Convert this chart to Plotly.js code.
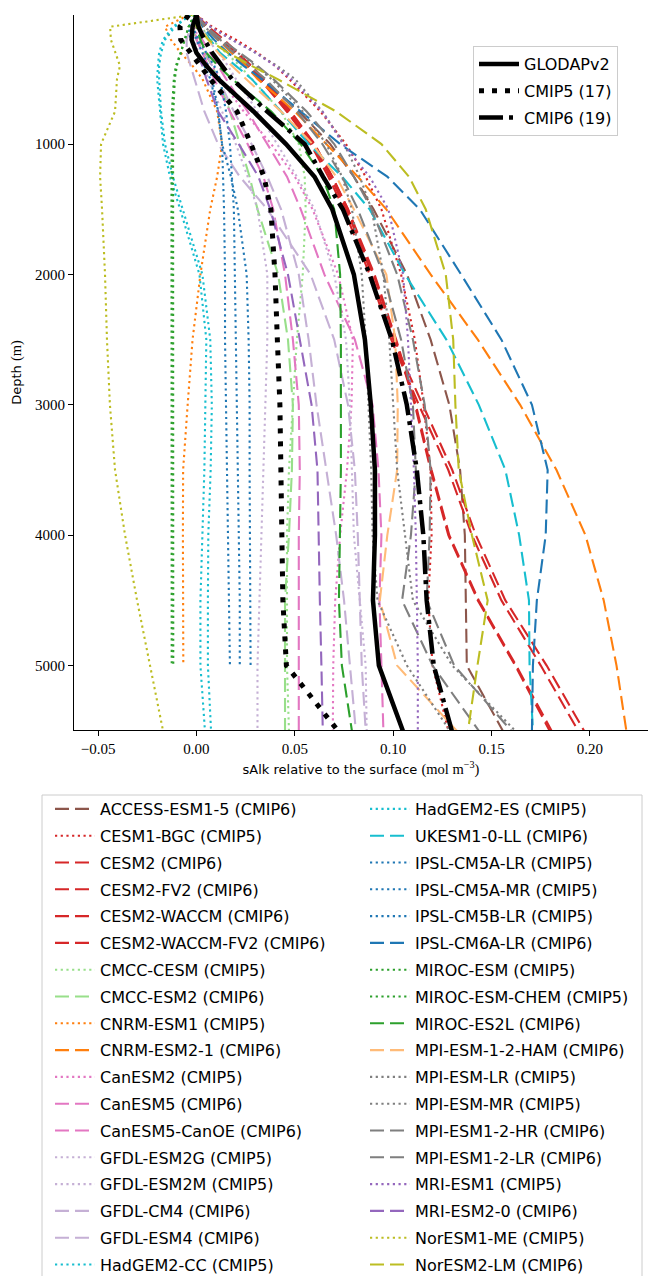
<!DOCTYPE html>
<html><head><meta charset="utf-8">
<script src="https://cdn.plot.ly/plotly-3.0.1.min.js"></script>
<style>html,body{margin:0;padding:0;background:#fff}#chart{width:648px;height:1276px}</style>
</head><body><div id="chart"></div>
<script>
// depth levels (m)
const DEPTH = [10,100,200,300,400,500,750,1000,1250,1500,2000,2500,3000,3500,4000,4500,5000,5500];

// sAlk relative to the surface (mol m-3)
const GLODAPv2   = [0,-0.002,-0.0025,0.0,0.005,0.011,0.029,0.0455,0.06,0.069,0.08,0.0856,0.0886,0.0907,0.0907,0.0897,0.0927,0.1049];
const CMIP5_MEAN = [-0.004,-0.0084,-0.008,-0.0033,0.002,0.0069,0.0206,0.0277,0.0343,0.0378,0.0399,0.0411,0.0424,0.0429,0.0434,0.0439,0.0457,0.0719];
const CMIP6_MEAN = [0,0.001,0.004,0.008,0.013,0.018,0.036,0.055,0.0643,0.0744,0.088,0.0993,0.1069,0.112,0.1153,0.117,0.1206,0.1298];

const ACCESS_ESM1_5   = [0,0.004,0.011,0.018,0.026,0.033,0.052,0.068,0.08,0.09,0.107,0.119,0.1285,0.134,0.1364,0.1369,0.1374,0.1557];
const CESM1_BGC       = [0,0.008,0.02,0.031,0.04,0.047,0.063,0.076,0.086,0.094,0.104,0.111,0.1155,0.119,0.1195,0.1178,0.12,0.128];
const CESM2           = [0,0.005,0.013,0.02,0.027,0.033,0.046,0.058,0.067,0.075,0.088,0.099,0.113,0.128,0.14,0.155,0.175,0.194];
const CESM2_FV2       = [0,0.005,0.012,0.019,0.026,0.032,0.046,0.059,0.068,0.076,0.09,0.101,0.111,0.119,0.128,0.143,0.162,0.1795];
const CESM2_WACCM     = [0,0.006,0.014,0.021,0.028,0.034,0.048,0.06,0.069,0.077,0.089,0.1,0.115,0.13,0.142,0.157,0.178,0.197];
const CESM2_WACCM_FV2 = [0,0.005,0.013,0.02,0.027,0.033,0.047,0.06,0.069,0.077,0.0905,0.1015,0.1115,0.1195,0.1285,0.1435,0.1625,0.1805];
const CMCC_CESM       = [0,0.002,0.008,0.015,0.022,0.028,0.043,0.052,0.055,0.0555,0.054,0.051,0.049,0.047,0.046,0.046,0.046,0.047];
const CMCC_ESM2       = [0,-0.002,0.0,0.004,0.008,0.011,0.017,0.022,0.027,0.031,0.0415,0.0465,0.049,0.0485,0.047,0.045,0.045,0.045];
const CNRM_ESM1       = [-0.004,-0.016,-0.013,-0.008,-0.002,0.003,0.0105,0.013,0.0105,0.007,0.002,-0.002,-0.0045,-0.0068,-0.0069,-0.0069,-0.0067,null];
const CNRM_ESM2_1     = [0,0.004,0.011,0.018,0.025,0.031,0.05,0.066,0.082,0.0965,0.119,0.143,0.1645,0.183,0.1977,0.207,0.2135,0.2185];
const CanESM2         = [0,-0.001,0.001,0.004,0.008,0.012,0.024,0.038,0.05,0.059,0.072,0.0795,0.0788,0.0765,0.073,0.0705,0.0695,0.0693];
const CanESM5         = [0,-0.001,0.0,0.003,0.006,0.009,0.017,0.026,0.034,0.039,0.045,0.049,0.052,0.0525,0.052,0.052,0.052,0.052];
const CanESM5_CanOE   = [0,0.0,0.003,0.007,0.011,0.015,0.026,0.036,0.046,0.053,0.065,0.0805,0.0895,0.0925,0.094,0.093,0.094,0.095];
const GFDL_ESM2G      = [0,-0.002,-0.001,0.001,0.004,0.006,0.013,0.02,0.026,0.031,0.036,0.036,0.035,0.034,0.033,0.032,0.031,0.031];
const GFDL_ESM2M      = [0,0.002,0.006,0.011,0.016,0.02,0.031,0.041,0.051,0.06,0.07,0.076,0.078,0.079,0.08,0.083,0.086,0.0865];
const GFDL_CM4        = [0,-0.003,-0.005,-0.005,-0.003,-0.001,0.004,0.011,0.022,0.036,0.058,0.07,0.077,0.0805,0.082,0.083,0.084,0.086];
const GFDL_ESM4       = [0,0.0,0.002,0.005,0.008,0.011,0.019,0.028,0.036,0.043,0.052,0.057,0.061,0.066,0.071,0.075,0.078,0.081];
const HadGEM2_CC      = [-0.003,-0.012,-0.017,-0.019,-0.0196,-0.02,-0.0185,-0.017,-0.0135,-0.0083,0.0015,0.005,0.0045,0.004,0.003,0.002,0.002,0.0043];
const HadGEM2_ES      = [-0.003,-0.011,-0.016,-0.018,-0.019,-0.019,-0.018,-0.016,-0.012,-0.007,0.003,0.007,0.0078,0.0072,0.006,0.0058,0.0058,0.0074];
const UKESM1_0_LL     = [0,0.002,0.007,0.012,0.02,0.028,0.043,0.057,0.074,0.088,0.106,0.127,0.1435,0.157,0.164,0.169,0.1693,0.171];
const IPSL_CM5A_LR    = [0,-0.004,-0.003,0.0,0.004,0.007,0.011,0.013,0.0135,0.014,0.0145,0.0145,0.015,0.0155,0.016,0.0165,0.017,null];
const IPSL_CM5A_MR    = [0,-0.002,0.001,0.005,0.009,0.012,0.015,0.017,0.018,0.019,0.0195,0.02,0.0205,0.021,0.0215,0.022,0.022,null];
const IPSL_CM5B_LR    = [0,-0.002,0.0,0.003,0.006,0.008,0.011,0.013,0.0175,0.021,0.0255,0.0265,0.027,0.027,0.0272,0.0273,0.0275,null];
const IPSL_CM6A_LR    = [0,0.003,0.009,0.016,0.024,0.033,0.053,0.073,0.097,0.1135,0.1345,0.155,0.1705,0.1785,0.1775,0.173,0.171,0.1705];
const MIROC_ESM       = [-0.001,-0.004,-0.006,-0.008,-0.0105,-0.0115,-0.0125,-0.0127,-0.0127,-0.0127,-0.0127,-0.0127,-0.0127,-0.0127,-0.0126,-0.0126,-0.0126,null];
const MIROC_ESM_CHEM  = [-0.001,-0.004,-0.006,-0.008,-0.01,-0.011,-0.0118,-0.0119,-0.0119,-0.0119,-0.0118,-0.0118,-0.0118,-0.0118,-0.0118,-0.0118,-0.0118,null];
const MIROC_ES2L      = [0,0.0,0.002,0.005,0.011,0.018,0.038,0.053,0.064,0.07,0.073,0.0734,0.0734,0.0734,0.0729,0.0724,0.0739,0.079];
const MPI_ESM_1_2_HAM = [0,0.002,0.006,0.011,0.018,0.025,0.043,0.059,0.071,0.08,0.0965,0.101,0.1023,0.102,0.097,0.0932,0.102,0.1323];
const MPI_ESM_LR      = [0,0.007,0.018,0.03,0.041,0.05,0.064,0.075,0.083,0.089,0.095,0.098,0.1,0.102,0.106,0.11,0.13,0.162];
const MPI_ESM_MR      = [0,0.004,0.012,0.021,0.03,0.038,0.054,0.066,0.074,0.079,0.084,0.086,0.0875,0.0888,0.0895,0.092,0.107,0.1287];
const MPI_ESM1_2_HR   = [0,0.004,0.011,0.019,0.027,0.035,0.051,0.064,0.074,0.082,0.095,0.104,0.11,0.1115,0.109,0.1045,0.12,0.1435];
const MPI_ESM1_2_LR   = [0,0.005,0.013,0.022,0.031,0.039,0.056,0.07,0.08,0.089,0.102,0.11,0.116,0.119,0.1185,0.117,0.131,0.16];
const MRI_ESM1        = [0,0.007,0.018,0.03,0.04,0.048,0.064,0.0745,0.088,0.0975,0.105,0.1075,0.109,0.1105,0.1115,0.112,0.1125,0.1125];
const MRI_ESM2_0      = [0,-0.002,-0.002,0.0,0.003,0.005,0.011,0.0215,0.0315,0.0375,0.0465,0.0525,0.0585,0.0615,0.062,0.0627,0.0635,0.0642];
const NorESM1_ME      = [-0.002,-0.0439,-0.0435,-0.041,-0.0389,-0.0404,-0.0414,-0.0485,-0.049,-0.048,-0.0465,-0.0455,-0.044,-0.0414,-0.0363,-0.0302,-0.0236,-0.017];
const NorESM2_LM      = [0,0.0,0.006,0.016,0.028,0.041,0.071,0.094,0.108,0.1165,0.1267,0.1305,0.1316,0.1333,0.14,0.148,0.1428,0.138];

const MODEL_NAMES = ['ACCESS-ESM1-5','CESM1-BGC','CESM2','CESM2-FV2','CESM2-WACCM','CESM2-WACCM-FV2','CMCC-CESM','CMCC-ESM2','CNRM-ESM1','CNRM-ESM2-1','CanESM2','CanESM5','CanESM5-CanOE','GFDL-ESM2G','GFDL-ESM2M','GFDL-CM4','GFDL-ESM4','HadGEM2-CC',
 'HadGEM2-ES','UKESM1-0-LL','IPSL-CM5A-LR','IPSL-CM5A-MR','IPSL-CM5B-LR','IPSL-CM6A-LR','MIROC-ESM','MIROC-ESM-CHEM','MIROC-ES2L','MPI-ESM-1-2-HAM','MPI-ESM-LR','MPI-ESM-MR','MPI-ESM1-2-HR','MPI-ESM1-2-LR','MRI-ESM1','MRI-ESM2-0','NorESM1-ME','NorESM2-LM'];
const MODEL_ERA = ['CMIP6','CMIP5','CMIP6','CMIP6','CMIP6','CMIP6','CMIP5','CMIP6','CMIP5','CMIP6','CMIP5','CMIP6','CMIP6','CMIP5','CMIP5','CMIP6','CMIP6','CMIP5',
 'CMIP5','CMIP6','CMIP5','CMIP5','CMIP5','CMIP6','CMIP5','CMIP5','CMIP6','CMIP6','CMIP5','CMIP5','CMIP6','CMIP6','CMIP5','CMIP6','CMIP5','CMIP6'];
const MODEL_VALUES = [ACCESS_ESM1_5,CESM1_BGC,CESM2,CESM2_FV2,CESM2_WACCM,CESM2_WACCM_FV2,CMCC_CESM,CMCC_ESM2,CNRM_ESM1,CNRM_ESM2_1,CanESM2,CanESM5,CanESM5_CanOE,GFDL_ESM2G,GFDL_ESM2M,GFDL_CM4,GFDL_ESM4,HadGEM2_CC,
 HadGEM2_ES,UKESM1_0_LL,IPSL_CM5A_LR,IPSL_CM5A_MR,IPSL_CM5B_LR,IPSL_CM6A_LR,MIROC_ESM,MIROC_ESM_CHEM,MIROC_ES2L,MPI_ESM_1_2_HAM,MPI_ESM_LR,MPI_ESM_MR,MPI_ESM1_2_HR,MPI_ESM1_2_LR,MRI_ESM1,MRI_ESM2_0,NorESM1_ME,NorESM2_LM];

const XTICKS = [-0.05,0,0.05,0.1,0.15,0.2];
const XTICKTEXT = ['\u22120.05','0.00','0.05','0.10','0.15','0.20'];
const YTICKS = [1000,2000,3000,4000,5000];

// styles
const FAMILY_COLOR = {
  'ACCESS':'#8c564b','CESM':'#d62728','CMCC':'#98df8a','CNRM':'#ff7f0e','CanESM':'#e377c2','GFDL':'#c5b0d5',
  'HadGEM':'#17becf','UKESM':'#17becf','IPSL':'#1f77b4','MIROC':'#2ca02c','MPI-ESM-1-2-HAM':'#ffbb78','MPI':'#7f7f7f','MRI':'#9467bd','NorESM':'#bcbd22'
};
function colorFor(name){
  if(name.startsWith('MPI-ESM-1-2-HAM')) return FAMILY_COLOR['MPI-ESM-1-2-HAM'];
  for(const k of ['ACCESS','CESM','CMCC','CNRM','CanESM','GFDL','HadGEM','UKESM','IPSL','MIROC','MPI','MRI','NorESM']){
    if(name.startsWith(k)) return FAMILY_COLOR[k];
  }
  return '#000';
}
const DASH_CMIP6 = '14px,6px';
const DOT_CMIP5 = '2.2px,3.5px';

const traces = [];
MODEL_NAMES.forEach((m,i)=>{
  const label = m + ' (' + MODEL_ERA[i] + ')';
  traces.push({
    type:'scatter', mode:'lines', x: MODEL_VALUES[i], y: DEPTH, name: label,
    line:{color: colorFor(m), width: 2.1, dash: MODEL_ERA[i]==='CMIP6' ? DASH_CMIP6 : DOT_CMIP5},
    legend: i < 18 ? 'legend' : 'legend3', legendgroup: label, hoverinfo:'skip'
  });
});
traces.push({type:'scatter', mode:'lines', x: GLODAPv2, y: DEPTH, name:'GLODAPv2',
  line:{color:'#000', width:4.5}, legend:'legend2', legendgroup:'g1', hoverinfo:'skip'});
traces.push({type:'scatter', mode:'lines', x: CMIP5_MEAN, y: DEPTH, name:'CMIP5 (17)',
  line:{color:'#000', width:5, dash:'5px,8px'}, legend:'legend2', legendgroup:'g2', hoverinfo:'skip'});
traces.push({type:'scatter', mode:'lines', x: CMIP6_MEAN, y: DEPTH, name:'CMIP6 (19)',
  line:{color:'#000', width:4.5, dash:'24px,6px,4px,6px'}, legend:'legend2', legendgroup:'g3', hoverinfo:'skip'});

const PL = 74, PT = 15, PW = 574, PH = 715;
function px2paperX(X){ return (X-PL)/PW; }
function px2paperY(Y){ return (PT+PH-Y)/PH; }

const legendCommon = {
  font:{family:'DejaVu Sans', size:16, color:'#000'},
  itemwidth:40, tracegroupgap:3, traceorder:'grouped',
  xanchor:'left', yanchor:'top', xref:'paper', yref:'paper', orientation:'v'
};

const layout = {
  width:648, height:1276,
  margin:{l:PL, r:0, t:PT, b:1276-PT-PH, autoexpand:false},
  paper_bgcolor:'#ffffff', plot_bgcolor:'#ffffff',
  font:{family:'DejaVu Sans', size:13, color:'#000'},
  showlegend:true,
  xaxis:{
    range:[-0.06226,0.2295], tickmode:'array', tickvals:XTICKS, ticktext:XTICKTEXT,
    ticks:'outside', ticklen:5, tickwidth:1, tickcolor:'#000',
    showline:true, linecolor:'#000', linewidth:1, mirror:false,
    showgrid:false, zeroline:false, automargin:false,
    tickfont:{family:'Liberation Serif', size:15, color:'#000'},
    title:{text:'sAlk relative to the surface <span style="font-family:Liberation Serif;font-size:14.5px">(mol m<sup>\u22123</sup>)</span>', font:{family:'DejaVu Sans', size:13, color:'#000'}, standoff:8}
  },
  yaxis:{
    range:[5494,10], tickmode:'array', tickvals:YTICKS,
    ticks:'outside', ticklen:5, tickwidth:1, tickcolor:'#000',
    showline:true, linecolor:'#000', linewidth:1, mirror:false,
    showgrid:false, zeroline:false, automargin:false,
    tickfont:{family:'Liberation Serif', size:15, color:'#000'},
    title:{text:'Depth <span style="font-family:Liberation Serif;font-size:14.5px">(m)</span>', font:{family:'DejaVu Sans', size:13, color:'#000'}, standoff:10}
  },
  legend: Object.assign({}, legendCommon, {x:px2paperX(50), y:px2paperY(792), bgcolor:'rgba(0,0,0,0)', borderwidth:0}),
  legend3: Object.assign({}, legendCommon, {x:px2paperX(365), y:px2paperY(792), bgcolor:'rgba(0,0,0,0)', borderwidth:0}),
  legend2: Object.assign({}, legendCommon, {x:px2paperX(473), y:px2paperY(46), bgcolor:'rgba(255,255,255,0.8)', bordercolor:'#cccccc', borderwidth:1}),
  shapes:[{
    type:'rect', xref:'paper', yref:'paper',
    x0:px2paperX(42), x1:px2paperX(642), y0:px2paperY(795), y1:px2paperY(1400),
    line:{color:'#cccccc', width:1}, fillcolor:'rgba(0,0,0,0)', layer:'below'
  }]
};

Plotly.newPlot('chart', traces, layout, {displayModeBar:false, responsive:false});
</script>
</body></html>
